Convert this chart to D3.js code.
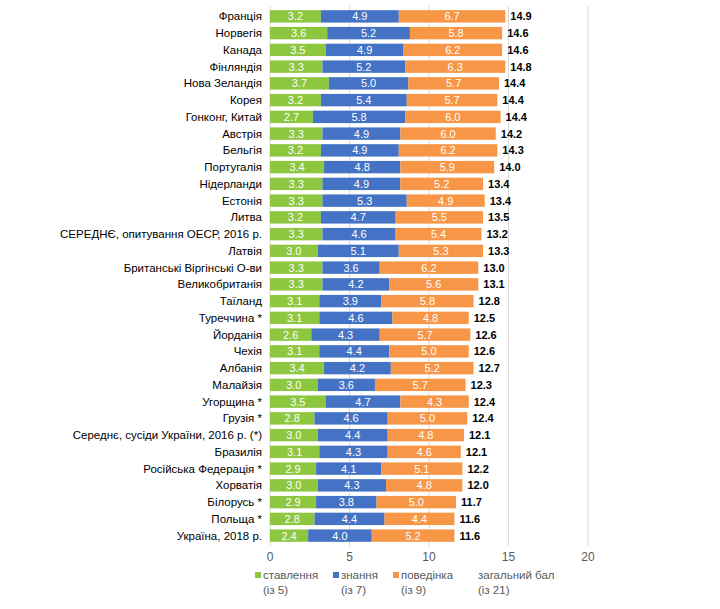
<!DOCTYPE html>
<html><head><meta charset="utf-8">
<script src="https://cdn.jsdelivr.net/npm/d3@7"></script>
<style>body{margin:0;background:#fff}text{font-family:"Liberation Sans",Arial,sans-serif}</style>
</head><body><svg id="c" width="720" height="609"></svg>
<script>
const categories=["Франція","Норвегія","Канада","Фінляндія","Нова Зеландія","Корея","Гонконг, Китай","Австрія","Бельгія","Португалія","Нідерланди","Естонія","Литва","СЕРЕДНЄ, опитування ОЕСР, 2016 р.","Латвія","Британські Віргінські О-ви","Великобританія","Таїланд","Туреччина *","Йорданія","Чехія","Албанія","Малайзія","Угорщина *","Грузія *","Середнє, сусіди України, 2016 р. (*)","Бразилія","Російська Федерація *","Хорватія","Білорусь *","Польща *","Україна, 2018 р."];
const attitude=[3.2,3.6,3.5,3.3,3.7,3.2,2.7,3.3,3.2,3.4,3.3,3.3,3.2,3.3,3.0,3.3,3.3,3.1,3.1,2.6,3.1,3.4,3.0,3.5,2.8,3.0,3.1,2.9,3.0,2.9,2.8,2.4];
const knowledge=[4.9,5.2,4.9,5.2,5.0,5.4,5.8,4.9,4.9,4.8,4.9,5.3,4.7,4.6,5.1,3.6,4.2,3.9,4.6,4.3,4.4,4.2,3.6,4.7,4.6,4.4,4.3,4.1,4.3,3.8,4.4,4.0];
const behaviour=[6.7,5.8,6.2,6.3,5.7,5.7,6.0,6.0,6.2,5.9,5.2,4.9,5.5,5.4,5.3,6.2,5.6,5.8,4.8,5.7,5.0,5.2,5.7,4.3,5.0,4.8,4.6,5.1,4.8,5.0,4.4,5.2];
const total=[14.9,14.6,14.6,14.8,14.4,14.4,14.4,14.2,14.3,14.0,13.4,13.4,13.5,13.2,13.3,13.0,13.1,12.8,12.5,12.6,12.6,12.7,12.3,12.4,12.4,12.1,12.1,12.2,12.0,11.7,11.6,11.6];
const ticks=[0,5,10,15,20];
const legend=[["ставлення","(із 5)","#8dc63f"],["знання","(із 7)","#4472c4"],["поведінка","(із 9)","#f79646"],["загальний бал","(із 21)",null]];
const colors=["#8dc63f","#4472c4","#f79646"];
const svg=d3.select("#c");
const x=d3.scaleLinear().domain([0,20]).range([270,588]);
const y=d3.scaleBand().domain(categories).range([8,544]).paddingInner(0.26).paddingOuter(0.13);
svg.selectAll("line.g").data(ticks).join("line").attr("x1",d=>x(d)).attr("x2",d=>x(d)).attr("y1",6).attr("y2",546).attr("stroke","#d9d9d9");
svg.selectAll("text.t").data(ticks).join("text").attr("x",d=>x(d)).attr("y",561).attr("text-anchor","middle").attr("font-size",12).attr("fill","#595959").text(d=>d);
const series=[attitude,knowledge,behaviour];
categories.forEach((c,i)=>{
  let acc=0;
  series.forEach((s,k)=>{
    const v=s[i];
    svg.append("rect").attr("x",x(acc)).attr("y",y(c)).attr("width",x(acc+v)-x(acc)).attr("height",y.bandwidth()).attr("fill",colors[k]);
    svg.append("text").attr("x",(x(acc)+x(acc+v))/2).attr("y",y(c)+y.bandwidth()/2+4).attr("text-anchor","middle").attr("font-size",11).attr("fill","#fff").text(v.toFixed(1));
    acc+=v;
  });
  svg.append("text").attr("x",x(acc)+5).attr("y",y(c)+y.bandwidth()/2+4).attr("font-size",11).attr("font-weight","bold").attr("fill","#000").text(total[i].toFixed(1));
  svg.append("text").attr("x",262).attr("y",y(c)+y.bandwidth()/2+4).attr("text-anchor","end").attr("font-size",11.5).attr("fill","#000").text(c);
});
const lx=[255,333,393,478];
legend.forEach((l,i)=>{
  let off=0;
  if(l[2]){svg.append("rect").attr("x",lx[i]).attr("y",572).attr("width",6).attr("height",6).attr("fill",l[2]);off=8;}
  svg.append("text").attr("x",lx[i]+off).attr("y",579).attr("font-size",11.5).attr("fill","#595959").text(l[0]);
  svg.append("text").attr("x",lx[i]+(l[2]?8:0)).attr("y",594).attr("font-size",11.5).attr("fill","#595959").text(l[1]);
});
</script></body></html>
